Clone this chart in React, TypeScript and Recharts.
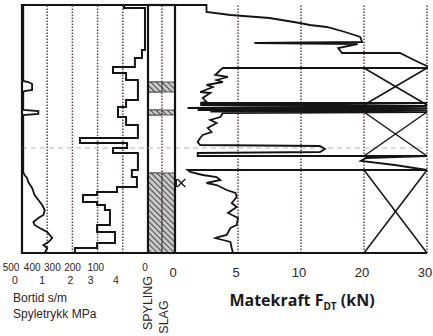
import React from 'react';
import { ScatterChart, Scatter, XAxis, YAxis, ReferenceLine, ReferenceArea, Label } from 'recharts';

// ---------- shared ----------
const DEPTH_MAX = 24.8; // depth scale (top of log = 0)

// ---------- left panel: Bortid s/m (500..0) and Spyletrykk MPa (0..5) ----------
const leftTicks = [0, 1, 2, 3, 4, 5];
const bortidTickLabels = ['500', '400', '300', '200', '100', '0'];
const spyletrykkTickLabels = ['0', '1', '2', '3', '4', ''];

// [MPa, depth]
const spyletrykk: [number, number][] = [
  [0.05, 0], [0.05, 7.6], [0.25, 7.7], [0.4, 7.9], [0.4, 8.5], [0.1, 8.6], [0.05, 8.7],
  [0.05, 10.5], [0.65, 10.6], [0.65, 10.9], [0.05, 11.0], [0.05, 16.7], [0.1, 17.0],
  [0.2, 17.3], [0.25, 17.7], [0.4, 18.3], [0.5, 19.0], [0.65, 19.5], [0.8, 20.0],
  [0.9, 20.5], [0.85, 21.0], [0.65, 21.3], [0.45, 21.7], [0.5, 22.0], [0.7, 22.3],
  [1.0, 22.7], [1.2, 23.3], [1.05, 23.7], [0.85, 24.0], [1.0, 24.3], [0.9, 24.8],
];

// [s/m, depth]
const bortid: [number, number][] = [
  [95, 0], [95, 0.3], [12, 0.3], [12, 4.5], [24, 4.5], [24, 5.3], [52, 5.3], [52, 6.2],
  [139, 6.2], [139, 6.8], [87, 6.8], [87, 7.5], [40, 7.5], [40, 9.5], [87, 9.5], [87, 10.2],
  [119, 10.2], [119, 11.2], [87, 11.2], [87, 12.0], [40, 12.0], [40, 13.3], [270, 13.3],
  [270, 13.8], [83, 13.8], [83, 14.3], [139, 14.3], [139, 14.8], [40, 14.8], [40, 16.5],
  [64, 16.5], [64, 17.2], [44, 17.2], [44, 18.2], [123, 18.2], [123, 18.7], [202, 18.7],
  [202, 19.0], [258, 19.0], [258, 19.7], [202, 19.7], [202, 20.0], [171, 20.0], [171, 20.5],
  [151, 20.5], [151, 22.0], [202, 22.0], [202, 22.7], [131, 22.7], [131, 23.8], [202, 23.8],
  [202, 24.3], [290, 24.3], [290, 24.8],
];

// ---------- middle columns: SPYLING / SLAG ----------
const columnLabels = ['SPYLING', 'SLAG'];
const spylingIntervals: [number, number][] = [[7.7, 8.7], [10.5, 11.0], [16.8, 24.8]];
const slagIntervals: [number, number][] = [[7.7, 8.7], [10.5, 11.0], [16.8, 24.8]];

// ---------- right panel: Matekraft F_DT (kN) ----------
const fdtTicks = [0, 5, 10, 20, 30];
// [kN, depth]
const matekraft: [number, number][] = [
  [0, 0], [2.5, 0], [2.5, 0.7], [4.4, 1.0], [7.5, 1.3], [9.9, 1.8], [11.4, 2.0], [14.1, 2.2],
  [17.0, 2.7], [19.4, 3.2], [19.7, 3.7], [6.3, 3.8], [19.0, 3.9], [15.9, 4.3], [16.5, 4.8],
  [25.7, 4.8], [27.3, 5.3], [28.6, 5.7], [30, 6.1], [30, 6.3], [3.8, 6.3],
  [3.6, 6.5], [3.2, 7.0], [4.2, 7.2], [3.3, 7.5], [3.8, 7.7], [2.5, 8.0], [3.0, 8.2],
  [2.0, 8.7], [2.8, 8.8], [2.2, 9.3], [2.5, 9.7], [2.0, 9.8],
  [30, 9.8], [2.0, 10.0], [30, 10.1], [1.0, 10.3], [30, 10.3], [1.8, 10.5], [30, 10.5],
  [2.8, 10.65], [30, 10.7], [3.8, 10.8],
  [3.6, 11.2], [2.8, 11.5], [3.3, 11.8], [2.6, 12.3], [2.9, 12.7], [2.2, 13.0], [2.0, 13.3],
  [1.8, 13.7], [2.0, 14.0], [13.0, 14.1], [13.8, 14.4], [13.0, 14.7], [1.8, 14.8],
  [1.8, 15.1], [30, 15.1], [20.3, 15.3], [19.5, 15.6], [24.9, 16.0], [30, 16.5], [1.0, 16.5],
  [1.2, 16.7], [2.2, 17.0], [3.3, 17.2], [3.6, 17.5], [2.5, 17.8], [3.3, 18.0], [4.1, 18.5],
  [4.8, 18.8], [4.9, 19.2], [4.5, 19.8], [4.9, 20.2], [4.2, 20.8], [5.0, 21.3], [4.9, 22.0],
  [4.4, 22.3], [4.1, 23.0], [3.4, 23.2], [3.2, 23.3], [3.8, 23.5], [4.4, 23.7], [4.5, 24.3],
  [4.6, 24.8],
];
// depth intervals crossed out between 20 and 30 kN
const crossedIntervals: [number, number][] = [[6.3, 10.0], [10.7, 15.1], [16.5, 24.8]];
const stoneMarks: [number, number][] = [[0.5, 17.8]];

// ---------- panel layout (one shared x scale, panels side by side) ----------
const LEFT_W = 126;
const COL_W = [14, 13];
const RIGHT_W = 252;
const TOTAL_W = LEFT_W + COL_W[0] + COL_W[1] + RIGHT_W;
const leftU = (p: number) => (p * LEFT_W) / 5;
const colStart = [LEFT_W, LEFT_W + COL_W[0]];
const RIGHT_START = LEFT_W + COL_W[0] + COL_W[1];
const fdtPos = (v: number) => (v <= 10 ? v : 10 + (v - 10) / 2); // 0-10 linear, 10-30 half scale
const rightU = (v: number) => RIGHT_START + (fdtPos(v) * RIGHT_W) / 20;

const leftTickU = leftTicks.map(leftU);
const rightTickU = fdtTicks.map(rightU);
const colTickU = [colStart[0] + COL_W[0] / 2, colStart[1] + COL_W[1] / 2];

// ---------- styles ----------
const INK = '#141414';
const GRID = '#5d4656';
const TEXT = '#2e2424';
const FONT = '"Liberation Sans", Arial, sans-serif';
const topDx = [-11, -15, -20, -25, -27, -3];
const botDx = [-7, -5, -2, -7, -7, 0];
const colDx = [-7, -4.5];
const colCy = [303, 317];
const noShape = () => <g />;

const AxisTick = (props: any) => {
  const { x, y, payload } = props;
  const v = payload.value;
  let i = leftTickU.indexOf(v);
  if (i >= 0) {
    return (
      <g fontFamily={FONT} fill={TEXT}>
        <text x={x + topDx[i]} y={y + 18} fontSize={10} textAnchor="middle">{bortidTickLabels[i]}</text>
        <text x={x + botDx[i]} y={y + 31} fontSize={10.5} textAnchor="middle">{spyletrykkTickLabels[i]}</text>
      </g>
    );
  }
  i = rightTickU.indexOf(v);
  if (i >= 0) {
    return (
      <text x={x - 2} y={y + 24} textAnchor="middle" fontFamily={FONT} fontSize={13} fill={TEXT}>
        {fdtTicks[i]}
      </text>
    );
  }
  i = colTickU.indexOf(v);
  if (i >= 0) {
    const cx = x + colDx[i];
    const cy = colCy[i];
    return (
      <text x={cx} y={cy} transform={`rotate(-90 ${cx} ${cy})`} textAnchor="middle"
        dominantBaseline="central" fontFamily={FONT} fontSize={12.5} fill={TEXT}>
        {columnLabels[i]}
      </text>
    );
  }
  return <g />;
};

const AxisTitles = (props: any) => {
  const vb = props.viewBox || { x: 22, y: 253 };
  return (
    <g>
      <text x={vb.x - 9} y={vb.y + 49} fontFamily={FONT} fontSize={12} fill={TEXT}>Bortid s/m</text>
      <text x={vb.x - 9} y={vb.y + 65} fontFamily={FONT} fontSize={12} fill={TEXT}>Spyletrykk MPa</text>
      <text x={vb.x + RIGHT_START + 127} y={vb.y + 53} textAnchor="middle" fontFamily='"Open Sans", sans-serif'
        fontWeight={700} fontSize={16} fill="#1a1a1a">
        <tspan>Matekraft F</tspan>
        <tspan fontSize={10} dy={4}>DT</tspan>
        <tspan dy={-4}> (kN)</tspan>
      </text>
    </g>
  );
};

const StoneMark = (props: any) => {
  const { cx, cy } = props;
  return (
    <g stroke={INK} strokeWidth={1.3} fill="none">
      <line x1={cx - 4} y1={cy - 4} x2={cx + 4} y2={cy + 4} />
      <line x1={cx + 4} y1={cy - 4} x2={cx - 4} y2={cy + 4} />
      <line x1={cx - 5} y1={cy - 4} x2={cx - 5} y2={cy + 4} />
    </g>
  );
};

const dotted = { stroke: GRID, strokeWidth: 1.5, strokeDasharray: '1.5 1.5' };

export default function App() {
  const sData = spyletrykk.map(([v, d]) => ({ x: leftU(v), y: d }));
  const bData = bortid.map(([b, d]) => ({ x: leftU((500 - b) / 100), y: d }));
  const mData = matekraft.map(([v, d]) => ({ x: rightU(v), y: d }));
  const stoneData = stoneMarks.map(([v, d]) => ({ x: rightU(v), y: d }));

  return (
    <div style={{ position: 'fixed', left: 0, top: 0, width: 433, height: 336, background: '#fff', overflow: 'hidden' }}>
      <svg width={1} height={1} style={{ position: 'absolute', left: 0, top: 0 }}>
        <defs>
          <pattern id="hatch" patternUnits="userSpaceOnUse" width={4} height={4} patternTransform="rotate(-45)">
            <rect width={4} height={4} fill="#c9c9c9" />
            <line x1={0} y1={0} x2={0} y2={4} stroke="#3a3a3a" strokeWidth={1.8} />
          </pattern>
        </defs>
      </svg>
      <ScatterChart width={433} height={336} margin={{ top: 5, right: 433 - 22 - TOTAL_W, left: 22, bottom: 0 }}>
        <XAxis type="number" dataKey="x" domain={[0, TOTAL_W]} ticks={[...leftTickU, ...colTickU, ...rightTickU]}
          interval={0} height={83} axisLine={false} tickLine={false} tickSize={0} tickMargin={0} tick={<AxisTick />}>
          <Label content={<AxisTitles />} />
        </XAxis>
        <YAxis type="number" dataKey="y" domain={[0, DEPTH_MAX]} reversed hide width={0} />

        {/* SLAG intervals: hatch drawn from the column's left divider across to the panel edge */}
        {slagIntervals.map(([a, b], i) => (
          <ReferenceArea key={'sl' + i} x1={colStart[0]} x2={RIGHT_START} y1={a} y2={b}
            ifOverflow="visible" fill="url(#hatch)" fillOpacity={1} stroke="#333" strokeWidth={0.8} />
        ))}
        {/* SPYLING intervals */}
        {spylingIntervals.map(([a, b], i) => (
          <ReferenceArea key={'sp' + i} x1={colStart[0]} x2={colStart[0] + COL_W[0]} y1={a} y2={b}
            fill="url(#hatch)" fillOpacity={1} stroke="#333" strokeWidth={0.8} />
        ))}

        {/* gridlines */}
        {[1, 2, 3, 4].map((p) => <ReferenceLine key={'lg' + p} x={leftU(p)} {...dotted} />)}
        <ReferenceLine x={colStart[1]} ifOverflow="visible" {...dotted} />
        {fdtTicks.slice(1).map((v) => <ReferenceLine key={'rg' + v} x={rightU(v)} {...dotted} />)}
        <ReferenceLine y={14.3} stroke="#b5b5b5" strokeDasharray="5 4" strokeWidth={1} />

        {/* frames */}
        <ReferenceArea x1={0} x2={LEFT_W} y1={0} y2={DEPTH_MAX} fill="none" stroke={INK} strokeWidth={2.2} />
        <ReferenceLine segment={[{ x: LEFT_W, y: 0 }, { x: RIGHT_START, y: 0 }]} stroke={INK} strokeWidth={2.2} />
        <ReferenceLine x={RIGHT_START} stroke={INK} strokeWidth={2.2} />
        <ReferenceLine y={DEPTH_MAX} stroke={INK} strokeWidth={2.2} />

        {/* crossed-out intervals 20-30 kN */}
        {crossedIntervals.map(([a, b], i) => (
          <ReferenceLine key={'c1' + i} segment={[{ x: rightU(20), y: a }, { x: rightU(30), y: b }]} stroke={INK} strokeWidth={1.5} />
        ))}
        {crossedIntervals.map(([a, b], i) => (
          <ReferenceLine key={'c2' + i} segment={[{ x: rightU(30), y: a }, { x: rightU(20), y: b }]} stroke={INK} strokeWidth={1.5} />
        ))}

        <Scatter data={sData} fill={INK} line={{ stroke: INK, strokeWidth: 1.8 }} shape={noShape} isAnimationActive={false} />
        <Scatter data={bData} fill={INK} line={{ stroke: INK, strokeWidth: 2 }} shape={noShape} isAnimationActive={false} />
        <Scatter data={mData} fill={INK} line={{ stroke: INK, strokeWidth: 1.8 }} shape={noShape} isAnimationActive={false} />
        <Scatter data={stoneData} fill={INK} shape={<StoneMark />} isAnimationActive={false} />
      </ScatterChart>
    </div>
  );
}
